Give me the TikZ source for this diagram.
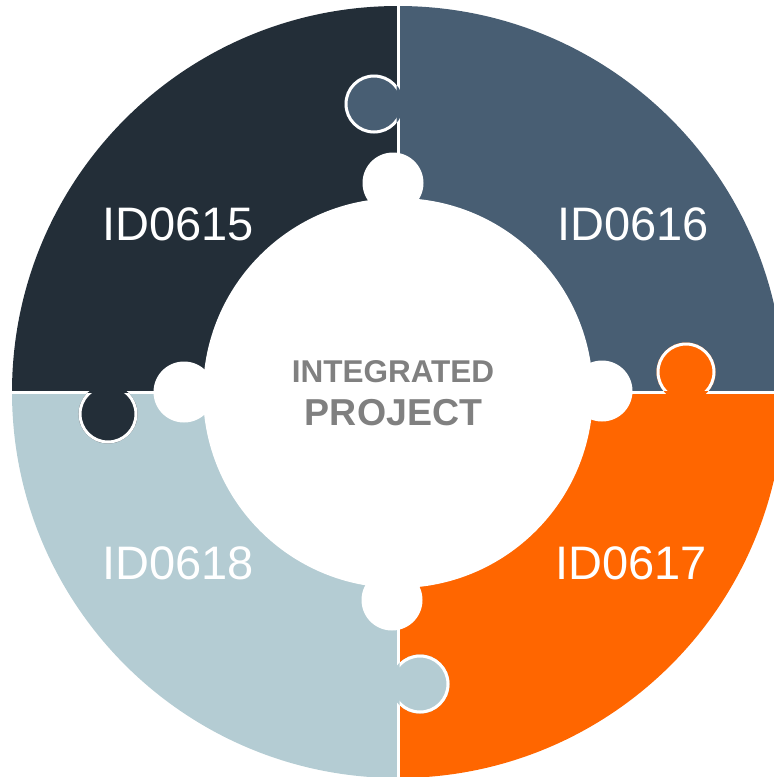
\documentclass[tikz,border=0pt]{standalone}
\usepackage{fontspec}
\setmainfont{Liberation Sans}
\definecolor{qdark}{HTML}{232E38}
\definecolor{qslate}{HTML}{485E73}
\definecolor{qorange}{HTML}{FF6600}
\definecolor{qlight}{HTML}{B4CCD3}
\definecolor{qgray}{HTML}{808080}
\tikzset{
  divider/.style={draw=white, line width=3pt},
  taboutline/.style={draw=white, line width=3pt},
  idlabel/.style={text=white, anchor=base, inner sep=0pt, font=\fontsize{47}{50}\selectfont},
  centerlabel/.style={text=qgray, anchor=base, inner sep=0pt, font=\bfseries\fontsize{#1}{#1}\selectfont},
}
\begin{document}
\begin{tikzpicture}[x=1pt,y=-1pt]
\useasboundingbox (0,0) rectangle (774,777);
\coordinate (O) at (398,392);
\coordinate (I) at (398,393);
% quadrants
\begin{scope}\clip (0,0) rectangle (398,392); \fill[qdark] (O) circle[radius=386]; \end{scope}
\begin{scope}\clip (398,0) rectangle (800,392); \fill[qslate] (O) circle[radius=386]; \end{scope}
\begin{scope}\clip (398,392) rectangle (800,800); \fill[qorange] (O) circle[radius=386]; \end{scope}
\begin{scope}\clip (0,392) rectangle (398,800); \fill[qlight] (O) circle[radius=386]; \end{scope}
% dividers
\draw[divider] (398,0) -- (398,777);
\draw[divider] (0,392) -- (774,392);
% outer tabs
\coordinate (tT) at (374,104);
\coordinate (tR) at (686,372);
\coordinate (tB) at (420,684);
\coordinate (tL) at (108,414);
\fill[qslate] (tT) circle[radius=29.5];
\begin{scope}\clip (0,0) rectangle (396.5,392); \draw[taboutline] (tT) circle[radius=28]; \end{scope}
\fill[qorange] (tR) circle[radius=29.5];
\begin{scope}\clip (398,0) rectangle (800,390.5); \draw[taboutline] (tR) circle[radius=28]; \end{scope}
\fill[qlight] (tB) circle[radius=29.5];
\begin{scope}\clip (399.5,392) rectangle (800,800); \draw[taboutline] (tB) circle[radius=28]; \end{scope}
\fill[qdark] (tL) circle[radius=29.5];
\begin{scope}\clip (0,393.5) rectangle (398,800); \draw[taboutline] (tL) circle[radius=28]; \end{scope}
% inner white circle with tabs
\fill[white] (I) circle[radius=195];
\fill[white] (393,183) circle[radius=30.5];
\fill[white] (602,391) circle[radius=30.5];
\fill[white] (392,600) circle[radius=30.5];
\fill[white] (184,392) circle[radius=30.5];
% labels
\node[idlabel] (l15) at (178,240) {ID0615};
\node[idlabel] (l16) at (633,240) {ID0616};
\node[idlabel] (l17) at (631,579) {ID0617};
\node[idlabel] (l18) at (178,579) {ID0618};
\node[centerlabel=31.5] (c1) at (393,382) {INTEGRATED};
\node[centerlabel=37.5] (c2) at (393.5,425) {PROJECT};
\end{tikzpicture}
\end{document}
